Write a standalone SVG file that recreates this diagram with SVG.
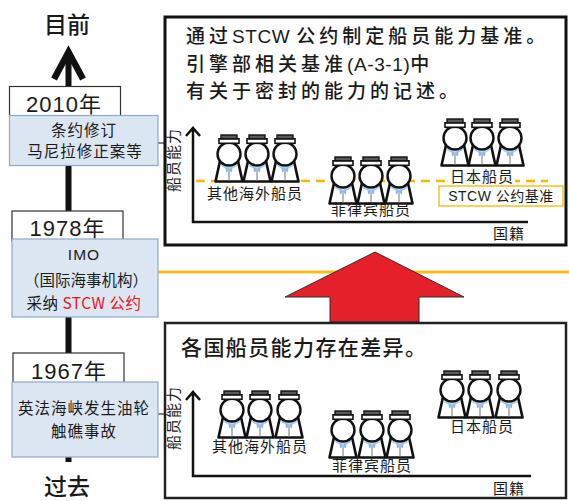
<svg xmlns="http://www.w3.org/2000/svg" xmlns:xlink="http://www.w3.org/1999/xlink" width="569" height="501" viewBox="0 0 569 501">
  <style>
    text { font-family: "Liberation Sans", "Noto Sans CJK SC", sans-serif; fill: #1a1a1a; }
    .cjk { font-family: "Noto Sans CJK SC", "Noto Sans", sans-serif; }
    .lat { font-family: "Liberation Sans", "Noto Sans", sans-serif; letter-spacing: 0.6px; }
    .year { font-size: 22px; letter-spacing: 1px; text-anchor: middle; }
    .event { font-size: 15.5px; letter-spacing: 1px; text-anchor: middle; }
    .head { font-size: 19px; letter-spacing: 4px; font-weight: 500; }
    .lbl { font-size: 15px; letter-spacing: 1px; text-anchor: middle; }
    .era { font-size: 23px; text-anchor: middle; font-weight: 500; }
    .yearbox { fill: #ffffff; stroke: #333333; stroke-width: 1.2; }
    .eventbox { fill: #dce6f2; stroke: #8fa9c8; stroke-width: 1.2; }
    .panel { fill: #ffffff; stroke: #111111; stroke-width: 3; }
    .axis { fill: none; stroke: #111111; stroke-width: 2.5; }
    .red { fill: #e8141c; }
  </style>
  <defs>
    <!-- sailor figure, origin at top centre of the cap -->
    <g id="sailor">
      <path d="M-9,26 L9,26 L13.5,46.5 L-13.5,46.5 Z" fill="#ffffff" stroke="#111111" stroke-width="2.6" stroke-linejoin="round"/>
      <path d="M-8,29 L0,32.5 L8,29 L7.5,31.5 L0,35 L-7.5,31.5 Z" fill="#a9c9ec"/>
      <path d="M-3.5,32.5 L0,34.5 L3.5,32.5 L3,37.5 L0,35.5 L-3,37.5 Z" fill="#8fb8e6"/>
      <path d="M0,36 V45.5" stroke="#8a8a8a" stroke-width="1.2"/>
      <circle cx="0" cy="19" r="11.5" fill="#ffffff" stroke="#111111" stroke-width="2.4"/>
      <rect x="-10" y="3.8" width="20" height="4.5" fill="#ffffff" stroke="#111111" stroke-width="1.6"/>
      <rect x="-8" y="0" width="16" height="3.8" fill="#5a5a5a" stroke="#111111" stroke-width="1.4"/>
    </g>
  </defs>

  <!-- connectors: time axis, links to panels, STCW line, upward arrow -->
  <g id="connectors">
    <path d="M68.5,54 V462" stroke="#111111" stroke-width="6"/>
    <path d="M54,79 L68.5,52 L83,79" fill="none" stroke="#111111" stroke-width="6.5"/>
    <path d="M158,143 H165" stroke="#333333" stroke-width="1.2"/>
    <path d="M158,414 H165" stroke="#333333" stroke-width="1.2"/>
    <path d="M158,272 H569" stroke="#f8bf1a" stroke-width="3"/>
    <polygon points="375,252 464,297 419,297 419,322 330,322 330,297 285,297" fill="#e4202a" stroke="#3a2a2a" stroke-width="1"/>
  </g>

  <!-- time axis end labels -->
  <g id="now">
    <text class="era cjk" x="67" y="33">目前</text>
  </g>
  <g id="past">
    <text class="era cjk" x="67" y="495">过去</text>
  </g>

  <!-- 2010 -->
  <g id="y2010">
    <rect class="yearbox" x="9.5" y="86.5" width="111" height="30"/>
    <text class="year" x="64" y="112">2010年</text>
    <rect class="eventbox" x="9.5" y="115.5" width="148.5" height="50"/>
    <text class="event cjk" x="84" y="136">条约修订</text>
    <text class="event cjk" x="85" y="157">马尼拉修正案等</text>
  </g>

  <!-- 1978 -->
  <g id="y1978">
    <rect class="yearbox" x="12" y="211" width="111" height="30"/>
    <text class="year" x="67.5" y="236">1978年</text>
    <rect class="eventbox" x="12" y="239" width="146" height="78"/>
    <text class="event" x="84" y="260">IMO</text>
    <text class="event cjk" x="86" y="286" style="letter-spacing:0">（国际海事机构）</text>
    <text class="event cjk" x="84" y="309" style="letter-spacing:0.5px">采纳 <tspan class="red">STCW 公约</tspan></text>
  </g>

  <!-- 1967 -->
  <g id="y1967">
    <rect class="yearbox" x="13" y="353" width="111" height="30"/>
    <text class="year" x="69" y="379">1967年</text>
    <rect class="eventbox" x="12" y="382" width="146" height="75"/>
    <text class="event cjk" x="84" y="414">英法海峡发生油轮</text>
    <text class="event cjk" x="84" y="437">触礁事故</text>
  </g>

  <!-- upper panel: after STCW -->
  <g id="after">
    <rect class="panel" x="165" y="17" width="401" height="228"/>
    <text class="head cjk" x="186" y="43">通过<tspan class="lat">STCW </tspan>公约制定船员能力基准。</text>
    <text class="head cjk" x="186" y="71">引擎部相关基准<tspan class="lat">(A-3-1)</tspan>中</text>
    <text class="head cjk" x="186" y="98">有关于密封的能力的记述。</text>

    <path d="M196,181 H548" stroke="#f5b800" stroke-width="2.5" stroke-dasharray="9 6"/>

    <text class="lbl cjk" x="174" y="160" transform="rotate(-90 174 160)" dy="5">船员能力</text>
    <path class="axis" d="M186,136 L193,128 L200,136 M193,129 V222 H528"/>
    <text class="lbl cjk" x="509" y="239">国籍</text>

    <use xlink:href="#sailor" x="229" y="135"/>
    <use xlink:href="#sailor" x="257" y="135"/>
    <use xlink:href="#sailor" x="285" y="135"/>
    <text class="lbl cjk" x="255" y="199">其他海外船员</text>

    <use xlink:href="#sailor" x="343" y="157"/>
    <use xlink:href="#sailor" x="371" y="157"/>
    <use xlink:href="#sailor" x="399" y="157"/>
    <text class="lbl cjk" x="371" y="215">菲律宾船员</text>

    <use xlink:href="#sailor" x="455" y="119"/>
    <use xlink:href="#sailor" x="482" y="119"/>
    <use xlink:href="#sailor" x="510" y="119"/>
    <rect x="449" y="169" width="66" height="15" fill="#ffffff"/>
    <text class="lbl cjk" x="482" y="182">日本船员</text>

    <rect x="439" y="186" width="124" height="20" fill="#ffffff" stroke="#f5b800" stroke-width="1.3"/>
    <text class="lbl" x="501" y="201" style="font-size:14px;letter-spacing:0.5px">STCW 公约基准</text>
  </g>

  <!-- lower panel: before STCW -->
  <g id="before">
    <rect class="panel" x="165" y="323" width="401" height="175" style="stroke:#222222;stroke-width:2.5"/>
    <text class="head cjk" x="181" y="355" style="font-size:21px;letter-spacing:1.4px">各国船员能力存在差异。</text>

    <text class="lbl cjk" x="174" y="418" transform="rotate(-90 174 418)" dy="5">船员能力</text>
    <path class="axis" d="M186,400 L193,392 L200,400 M193,393 V476 H531"/>
    <text class="lbl cjk" x="509" y="494">国籍</text>

    <use xlink:href="#sailor" x="232" y="391"/>
    <use xlink:href="#sailor" x="260" y="391"/>
    <use xlink:href="#sailor" x="289" y="391"/>
    <text class="lbl cjk" x="260" y="452">其他海外船员</text>

    <use xlink:href="#sailor" x="343" y="411"/>
    <use xlink:href="#sailor" x="372" y="411"/>
    <use xlink:href="#sailor" x="400" y="411"/>
    <text class="lbl cjk" x="372" y="471">菲律宾船员</text>

    <use xlink:href="#sailor" x="452" y="371"/>
    <use xlink:href="#sailor" x="480" y="371"/>
    <use xlink:href="#sailor" x="509" y="371"/>
    <text class="lbl cjk" x="482" y="432">日本船员</text>
  </g>
</svg>
